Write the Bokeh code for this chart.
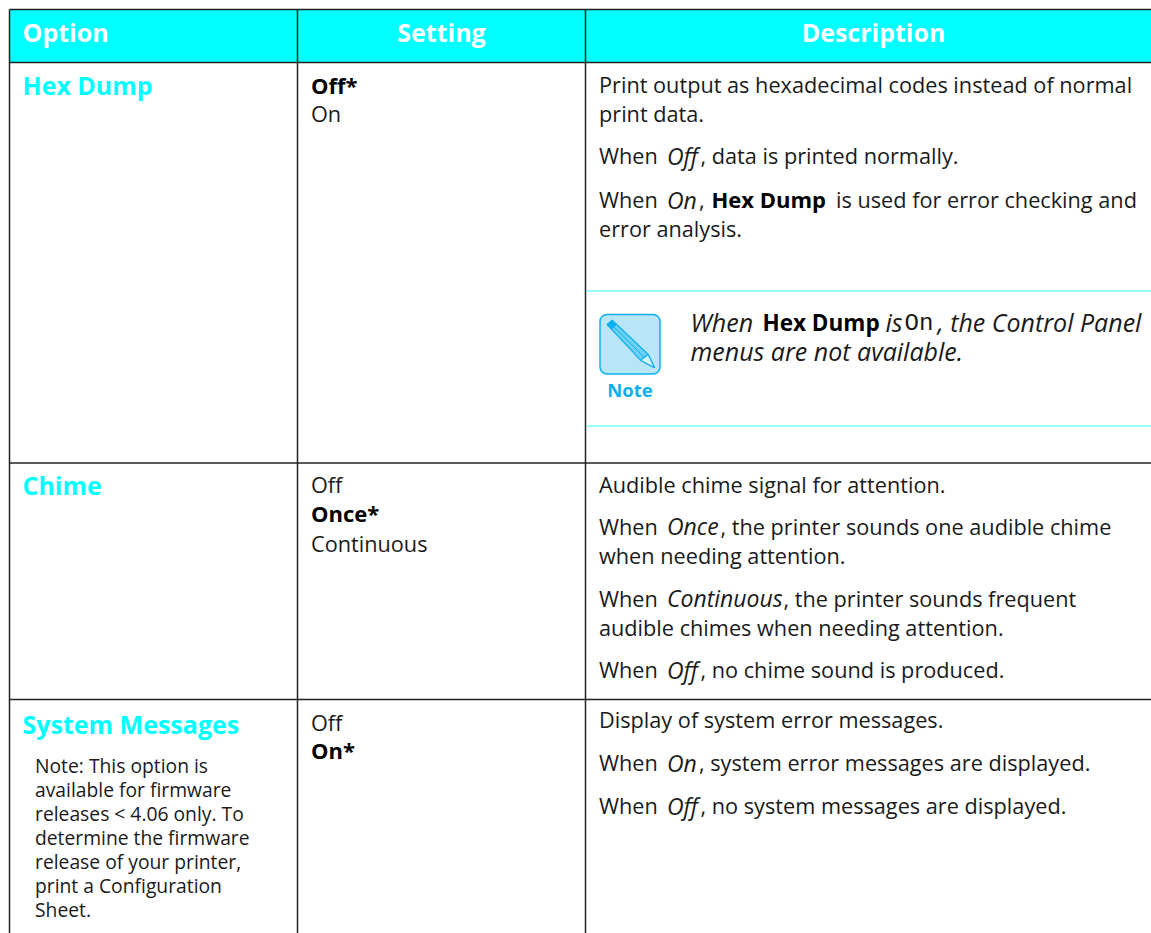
from bokeh.plotting import figure
from bokeh.embed import file_html
from bokeh.resources import INLINE
from bokeh.models import Range1d

FONT = "Open Sans"
CYAN = "#00ffff"
INK = "#1a1a1a"
BLUE = "#0db0ee"
SIZES = {"normal": 21.7, "bold": 22, "italic": 23}

headers = ["Option", "Setting", "Description"]
options = ["Hex Dump", "Chime", "System Messages"]
footnote = ["Note: This option is", "available for firmware", "releases < 4.06 only. To",
            "determine the firmware", "release of your printer,", "print a Configuration", "Sheet."]

settings = [
    (310.5, 92, "Off*", "bold"), (310.5, 120.5, "On", "normal"),
    (310.5, 491.5, "Off", "normal"), (310.5, 520.5, "Once*", "bold"), (310.5, 550.5, "Continuous", "normal"),
    (310.5, 729.5, "Off", "normal"), (310.5, 757.5, "On*", "bold"),
]
desc = [
    (598.5, 92, "Print output as hexadecimal codes instead of normal", "normal"),
    (598.5, 121, "print data.", "normal"),
    (598.5, 163, "When", "normal"), (666.5, 163, "Off", "italic"), (700, 163, ", data is printed normally.", "normal"),
    (598.5, 207, "When", "normal"), (666.5, 207, "On", "italic"), (698.5, 207, ",", "normal"), (711, 206, "Hex Dump", "bold"),
    (835.5, 207, "is used for error checking and", "normal"),
    (598.5, 236, "error analysis.", "normal"),
    (598.5, 492, "Audible chime signal for attention.", "normal"),
    (598.5, 534, "When", "normal"), (666.5, 533.4, "Once", "italic"), (720, 534, ", the printer sounds one audible chime", "normal"),
    (598.5, 563, "when needing attention.", "normal"),
    (598.5, 606, "When", "normal"), (666.5, 605.4, "Continuous", "italic"), (783, 606, ", the printer sounds frequent", "normal"),
    (598.5, 635, "audible chimes when needing attention.", "normal"),
    (598.5, 677, "When", "normal"), (666.5, 677, "Off", "italic"), (700, 677, ", no chime sound is produced.", "normal"),
    (598.5, 727, "Display of system error messages.", "normal"),
    (598.5, 770, "When", "normal"), (666.5, 770, "On", "italic"), (698.5, 770, ", system error messages are displayed.", "normal"),
    (598.5, 813, "When", "normal"), (666.5, 813, "Off", "italic"), (700, 813, ", no system messages are displayed.", "normal"),
]
note_runs = [
    (690, 330, "When", "italic", 25), (762, 331, "Hex Dump", "bold", 22.5), (885, 330, "is", "italic", 25),
    (937, 330, ", the Control Panel", "italic", 25),
    (690, 359, "menus are not available.", "italic", 25),
]

p = figure(width=1151, height=933, output_backend="svg", toolbar_location=None,
           x_range=Range1d(0, 1151), y_range=Range1d(933, 0),
           min_border=0, outline_line_color=None)
p.xaxis.visible = False
p.yaxis.visible = False
p.grid.visible = False

# header band and rules
p.quad(left=[9], right=[1151], top=[9], bottom=[62], fill_color=CYAN, line_color=None)
p.multi_line([[9, 1151]] * 4, [[9, 9], [62, 62], [462.5, 462.5], [699, 699]],
             line_color="#222222", line_width=1.5)
p.multi_line([[9, 9], [297, 297], [585, 585]], [[9, 933]] * 3, line_color="#222222", line_width=1.5)
p.multi_line([[586, 1151], [586, 1151]], [[290.5, 290.5], [425.5, 425.5]], line_color="#33f5f5", line_width=1.2)

def txt(x, y, t, style="normal", size=21.7, color=INK, align="left", font=FONT, lift=None):
    lift = 0.36 * size if lift is None else lift
    p.text(x=[x], y=[y - lift], text=[t], text_font_size=f"{size}px", text_color=color, text_align=align,
           text_baseline="alphabetic", text_font_style=style, text_font={"value": font})

for x, t, a in zip([22, 441, 873], headers, ["left", "center", "center"]):
    txt(x, 40, t, "bold", 25, "#ffffff", a)
for y, t in zip([93, 493, 732], options):
    txt(22, y, t, "bold", 25, CYAN)
for i, t in enumerate(footnote):
    txt(34.5, 772 + i * 24, t, "normal", 19.3)
for x, y, t, s in settings + desc:
    txt(x, y, t, s, SIZES[s], "#000000" if s == "bold" else INK, lift=7.8)
for x, y, t, s, z in note_runs:
    txt(x, y, t, s, z, "#000000" if s == "bold" else INK, lift=8.6)
txt(904, 330, "On", "normal", 24, INK, font="Liberation Mono", lift=7.2)

# note icon
p.quad(left=[599.5], right=[659.5], top=[314], bottom=[373.5], fill_color="#b9e5f9", line_color=BLUE, line_width=1.5, border_radius=7)
p.patch([606.7, 611.7, 647.7, 654, 640], [324, 319.7, 354, 367.3, 359.7], fill_color="#6fd0f5", line_color=BLUE, line_width=1.2)
p.patch([647.7, 654, 640], [354, 367.3, 359.7], fill_color="#d8f2fc", line_color=BLUE, line_width=1.2)
p.patch([606.7, 611.7, 616, 611], [324, 319.7, 324, 328.5], fill_color=BLUE, line_color=BLUE, line_width=1)
p.line([610, 644], [323, 357], line_color=BLUE, line_width=1)
txt(629.5, 396, "Note", "bold", 18.5, BLUE, "center")

open("out.html", "w").write(file_html(p, INLINE))
